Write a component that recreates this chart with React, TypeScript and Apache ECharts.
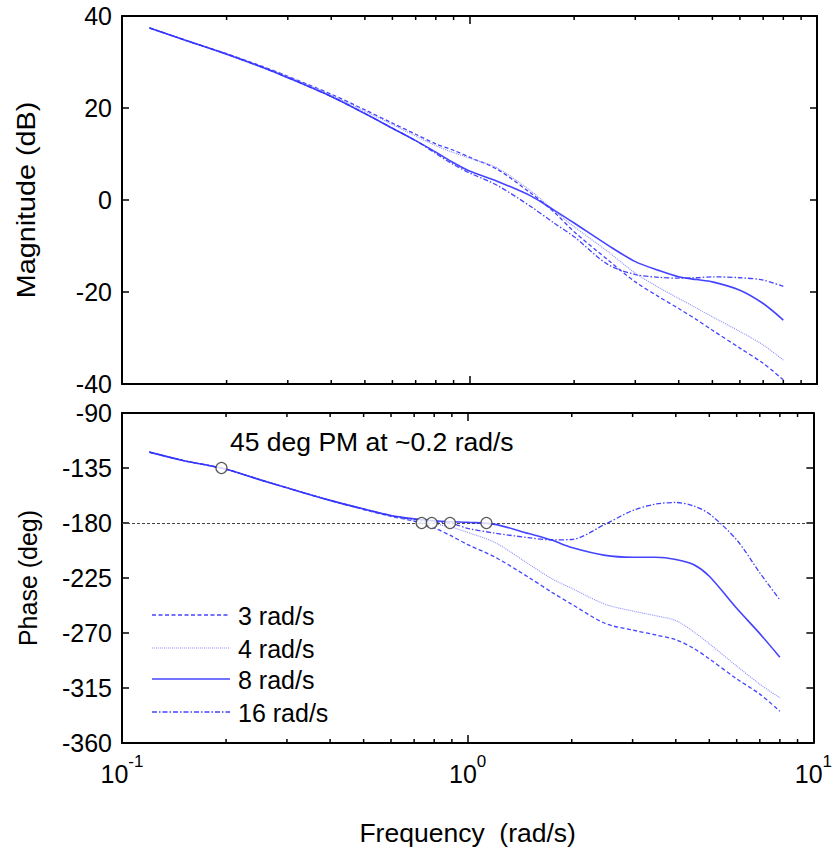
import React, { useEffect, useRef } from "react";
import * as echarts from "echarts";

// Frequency grid (rad/s)
const freqs = [0.12, 0.15, 0.2, 0.25, 0.3, 0.4, 0.5, 0.6, 0.7, 0.8, 0.9, 1.0, 1.2, 1.5, 1.75, 2, 2.5, 3, 3.5, 4, 4.5, 5, 6, 7, 8];

// Magnitude (dB)
const mag3 = [37.4, 34.9, 31.8, 29.2, 26.9, 23.0, 19.6, 16.7, 14.3, 12.2, 10.8, 9.3, 6.7, 1.5, -2.6, -6.9, -13.0, -17.8, -21.0, -23.6, -26.0, -28.3, -32.2, -35.5, -39.1];
const mag4 = [37.4, 34.9, 31.8, 29.1, 26.8, 22.8, 19.3, 16.4, 13.9, 11.8, 10.3, 9.1, 7.0, 2.0, -2.3, -5.8, -11.2, -15.9, -19.0, -21.4, -23.5, -25.4, -28.6, -31.5, -34.8];
const mag8 = [37.4, 34.9, 31.7, 29.0, 26.6, 22.5, 18.8, 15.6, 12.9, 10.4, 8.1, 6.3, 4.1, 0.9, -2.2, -5.0, -9.8, -13.4, -15.3, -16.7, -17.3, -17.8, -19.6, -22.5, -26.1];
const mag16 = [37.4, 34.9, 31.7, 29.0, 26.6, 22.5, 18.8, 15.6, 12.9, 10.1, 7.7, 5.9, 3.2, -1.4, -5.0, -8.0, -14.0, -16.2, -16.8, -17.0, -16.9, -16.7, -16.9, -17.4, -18.8];

// Phase (deg)
const ph3 = [-122, -128.8, -136, -144.5, -151.2, -161.5, -169, -174.6, -178.5, -184, -190.8, -197.7, -207.9, -224.4, -236.6, -246.5, -262.2, -267.6, -271.6, -275.5, -282.5, -291.2, -307.5, -320, -334];
const ph4 = [-122, -128.8, -136, -144.5, -151.2, -161.5, -169, -174.3, -177.8, -180.6, -183.5, -187.7, -196, -213.5, -225.5, -233.5, -246.5, -252, -255.9, -259.8, -268.9, -278.8, -297, -311.9, -323];
const ph8 = [-122, -128.8, -136, -144.5, -151.2, -161.5, -168.5, -173.8, -176.5, -178.2, -179, -179.4, -181.1, -188.6, -194, -200.1, -206.5, -208, -208, -209.8, -214, -223.6, -249.8, -270.5, -289.8];
const ph16 = [-122, -128.8, -136, -144.5, -151.2, -161.5, -168.5, -174, -177, -179, -180.4, -184.4, -188.3, -192, -193.8, -193.5, -181, -169.8, -164.5, -163.2, -166, -172.5, -193.8, -220.8, -242.9];

// Phase-margin markers [freq, deg]
const pmFreqs = [0.194, 0.736, 0.787, 0.889, 1.133];
const pmPhase = [-135, -180, -180, -180, -180];

const legendLabels = ["3 rad/s", "4 rad/s", "8 rad/s", "16 rad/s"];
const minorFreqs = [0.2, 0.3, 0.4, 0.5, 0.6, 0.7, 0.8, 0.9, 2, 3, 4, 5, 6, 7, 8, 9];
const magTicks = { min: -40, max: 40, interval: 20 };
const phaseTicks = { min: -360, max: -90, interval: 45 };

const FONT = "'Liberation Sans', Arial, Helvetica, sans-serif";
const BLUE = "#3030ff";

const styles = [
  { color: BLUE, width: 1.3, type: [4, 2.5] as any, opacity: 0.9 },
  { color: "#8c8cff", width: 1.1, type: [1, 1] as any, opacity: 1 },
  { color: "#3a3aff", width: 1.6, type: "solid" as any, opacity: 0.95 },
  { color: BLUE, width: 1.3, type: [5, 2, 1.5, 2] as any, opacity: 0.9 },
];

export default function App() {
  const ref = useRef<HTMLDivElement>(null);
  useEffect(() => {
    document.body.style.margin = "0";
    const chart = echarts.init(ref.current!, null, { renderer: "svg" });
    const grids = [
      { left: 122, top: 16, width: 695, height: 368 },
      { left: 122, top: 413, width: 695, height: 330 },
    ];
    const axisLine = { show: true, onZero: false, lineStyle: { color: "#000", width: 2 } };
    const xBase = (gi: number, pos: string, labels: boolean) => ({
      type: "log",
      logBase: 10,
      min: 0.1,
      max: 10,
      gridIndex: gi,
      position: pos,
      axisLine,
      axisTick: { show: true, inside: true, length: 8, lineStyle: { color: "#000", width: 1.5 } },
      splitLine: { show: false },
      minorTick: { show: false },
      axisLabel: labels
        ? {
            show: true,
            margin: 10,
            formatter: (v: number) => `{b|10}{s|${Math.round(Math.log10(v))}}`,
            rich: {
              b: { fontSize: 25, fontFamily: FONT, color: "#000", lineHeight: 42, verticalAlign: "middle" },
              s: { fontSize: 17, fontFamily: FONT, color: "#000", lineHeight: 18, verticalAlign: "top" },
            },
          }
        : { show: false },
    });
    const yBase = (gi: number, pos: string, t: any, labels: boolean, name?: string) => ({
      type: "value",
      gridIndex: gi,
      position: pos,
      min: t.min,
      max: t.max,
      interval: t.interval,
      axisLine,
      axisTick: { show: true, inside: true, length: 7, lineStyle: { color: "#000", width: 1.5 } },
      splitLine: { show: false },
      axisLabel: labels ? { show: true, margin: 10, fontSize: 25, fontFamily: FONT, color: "#000" } : { show: false },
      name: name || "",
      nameLocation: "middle",
      nameGap: 82,
      nameTextStyle: { fontSize: 25, fontFamily: FONT, color: "#000" },
    });

    const lineSeries = (vals: number[], si: number, gi: number, extra: any = {}) => ({
      type: "line",
      xAxisIndex: gi * 2,
      yAxisIndex: gi * 2,
      data: freqs.map((f, i) => [f, vals[i]]),
      showSymbol: false,
      smooth: 0.3,
      lineStyle: { color: styles[si].color, width: styles[si].width, type: styles[si].type, opacity: styles[si].opacity },
      z: 3,
      ...extra,
    });

    const minorSeries = (gi: number, t: any) => ({
      type: "custom",
      xAxisIndex: gi * 2,
      yAxisIndex: gi * 2,
      data: minorFreqs.map((f) => [f, t.min]),
      silent: true,
      z: 5,
      renderItem: (_p: any, api: any) => {
        const f = api.value(0);
        const top = api.coord([f, t.max]);
        const bot = api.coord([f, t.min]);
        return {
          type: "group",
          children: [
            { type: "line", shape: { x1: top[0], y1: top[1], x2: top[0], y2: top[1] + 4 }, style: { stroke: "#000", lineWidth: 1.5 } },
            { type: "line", shape: { x1: bot[0], y1: bot[1], x2: bot[0], y2: bot[1] - 4 }, style: { stroke: "#000", lineWidth: 1.5 } },
          ],
        };
      },
    });

    const legendYs = [615, 648, 679, 712];
    const legendGraphics: any[] = [];
    legendLabels.forEach((lab, i) => {
      const st = styles[i];
      legendGraphics.push({
        type: "line",
        shape: { x1: 152, y1: legendYs[i], x2: 230, y2: legendYs[i] },
        style: { stroke: st.color, lineWidth: st.width, lineDash: Array.isArray(st.type) ? st.type : null, opacity: st.opacity },
        z: 10,
      });
      legendGraphics.push({
        type: "text",
        x: 238,
        y: legendYs[i] + 1,
        style: { text: lab, font: `25px ${FONT}`, fill: "#000", verticalAlign: "middle", align: "left" },
        z: 10,
      });
    });

    const option: any = {
      animation: false,
      textStyle: { fontFamily: FONT },
      grid: grids,
      xAxis: [
        xBase(0, "bottom", false),
        xBase(0, "top", false),
        {
          ...xBase(1, "bottom", true),
          name: "Frequency  (rad/s)",
          nameLocation: "middle",
          nameGap: 76,
          nameTextStyle: { fontSize: 26.5, fontFamily: FONT, color: "#000" },
        },
        xBase(1, "top", false),
      ],
      yAxis: [
        yBase(0, "left", magTicks, true),
        yBase(0, "right", magTicks, false),
        yBase(1, "left", phaseTicks, true, "Phase (deg)"),
        yBase(1, "right", phaseTicks, false),
      ],
      series: [
        lineSeries(mag3, 0, 0),
        lineSeries(mag4, 1, 0),
        lineSeries(mag8, 2, 0),
        lineSeries(mag16, 3, 0),
        lineSeries(ph3, 0, 1, {
          markLine: {
            silent: true,
            symbol: ["none", "none"],
            label: { show: false },
            lineStyle: { color: "#444", type: [3, 2], width: 1 },
            data: [{ yAxis: -180 }],
            z: 2,
          },
        }),
        lineSeries(ph4, 1, 1),
        lineSeries(ph8, 2, 1),
        lineSeries(ph16, 3, 1),
        {
          type: "scatter",
          xAxisIndex: 2,
          yAxisIndex: 2,
          data: pmFreqs.map((f, i) => [f, pmPhase[i]]),
          symbol: "circle",
          symbolSize: 11,
          itemStyle: { color: "#fff", borderColor: "#333", borderWidth: 1.3 },
          z: 8,
        },
        minorSeries(0, magTicks),
        minorSeries(1, phaseTicks),
      ],
      graphic: [
        {
          type: "text",
          x: 27,
          y: 200,
          rotation: Math.PI / 2,
          scaleX: 1.15,
          style: { text: "Magnitude (dB)", font: `25px ${FONT}`, fill: "#000", verticalAlign: "middle", align: "center" },
          z: 10,
        },
        {
          type: "text",
          x: 230,
          y: 442,
          style: { text: "45 deg PM at ~0.2 rad/s", font: `26.5px ${FONT}`, fill: "#000", verticalAlign: "middle", align: "left" },
          z: 10,
        },
        ...legendGraphics,
      ],
    };
    chart.setOption(option);
    return () => chart.dispose();
  }, []);
  return <div ref={ref} style={{ width: 835, height: 852 }} />;
}
